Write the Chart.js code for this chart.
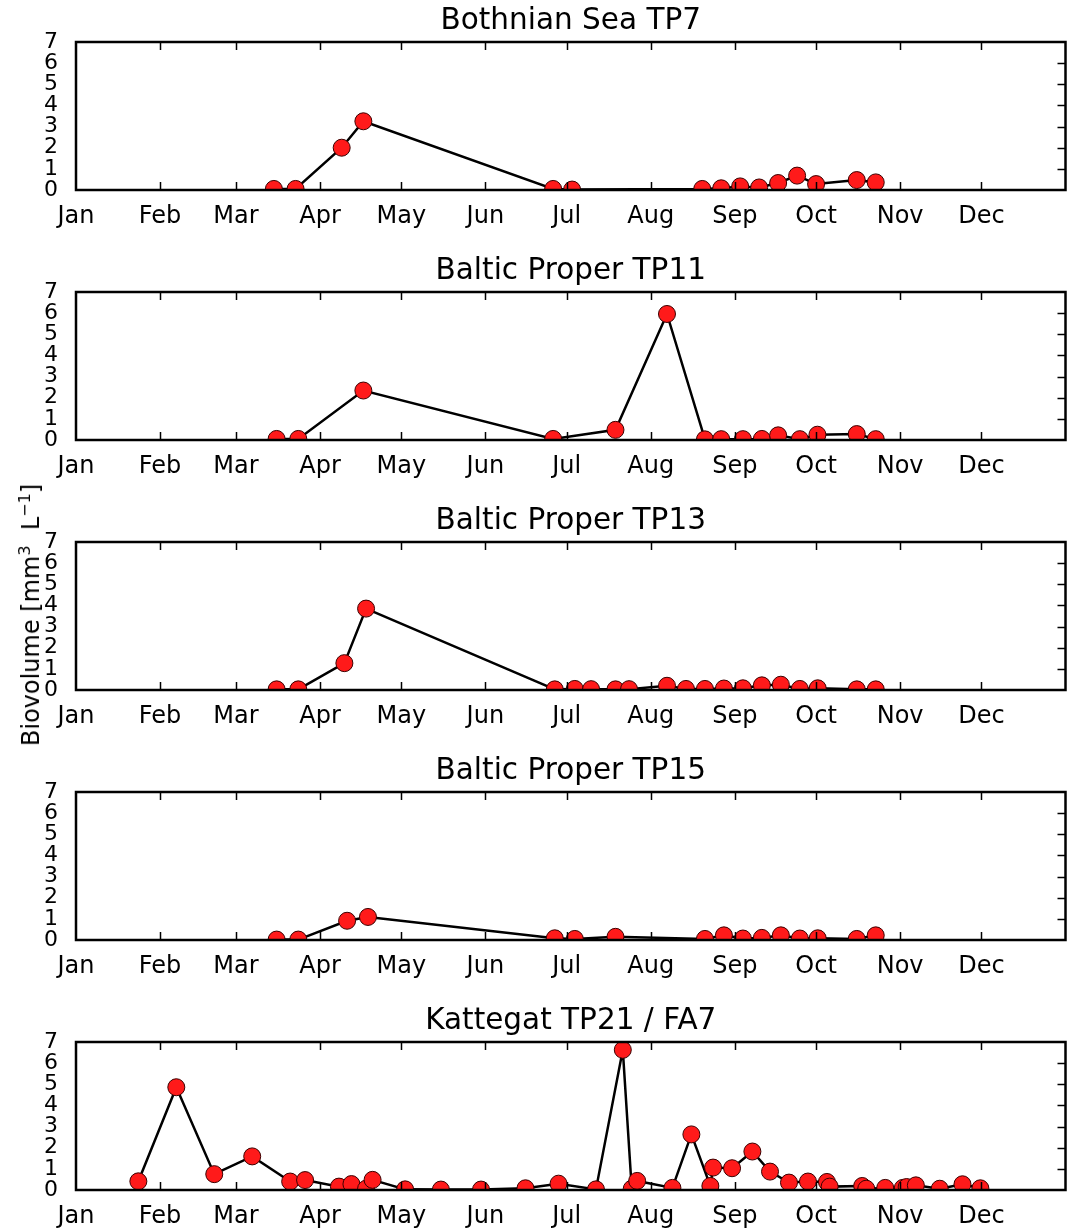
<!DOCTYPE html>
<html>
<head>
<meta charset="utf-8">
<script src="https://cdn.jsdelivr.net/npm/chart.js@4/dist/chart.umd.min.js"></script>
<style>
  html, body { margin: 0; padding: 0; background: #fff; width: 1075px; height: 1228px; overflow: hidden; position: relative; }
  .panel { position: absolute; left: 0; }
  #ylabel { position: absolute; left: 30px; top: 615px; transform: translate(-50%, -50%) rotate(-90deg);
            white-space: nowrap; font-family: "DejaVu Sans", sans-serif; font-size: 24px; color: #000; z-index: 5; }
  #ylabel sup { font-size: 16px; }
</style>
</head>
<body>
<canvas id="c0" class="panel" width="1075" height="250" style="top:0px"></canvas>
<canvas id="c1" class="panel" width="1075" height="250" style="top:250px"></canvas>
<canvas id="c2" class="panel" width="1075" height="250" style="top:500px"></canvas>
<canvas id="c3" class="panel" width="1075" height="250" style="top:750px"></canvas>
<canvas id="c4" class="panel" width="1075" height="250" style="top:1000px"></canvas>
<div id="ylabel">Biovolume [mm<sup>3</sup>&nbsp;&nbsp;L<sup>&minus;1</sup>]</div>
<script>
// ---- data (x = day of year, y = biovolume) ----
const monthStarts = [0, 31, 59, 90, 120, 151, 181, 212, 243, 273, 304, 334];
const monthLabels = ['Jan', 'Feb', 'Mar', 'Apr', 'May', 'Jun', 'Jul', 'Aug', 'Sep', 'Oct', 'Nov', 'Dec'];
const yTickValues = [0, 1, 2, 3, 4, 5, 6, 7];
const panelTitles = ['Bothnian Sea TP7', 'Baltic Proper TP11', 'Baltic Proper TP13', 'Baltic Proper TP15', 'Kattegat TP21 / FA7'];

const daysTP7 = [73, 81, 98, 106, 176, 183, 231, 238, 245, 252, 259, 266, 273, 288, 295];
const valuesTP7 = [0.05, 0.05, 2.0, 3.25, 0.05, 0.02, 0.05, 0.08, 0.17, 0.12, 0.33, 0.68, 0.28, 0.47, 0.36];

const daysTP11 = [74, 82, 106, 176, 199, 218, 232, 238, 246, 253, 259, 267, 273.5, 288, 295];
const valuesTP11 = [0.05, 0.05, 2.34, 0.05, 0.48, 5.96, 0.03, 0.04, 0.04, 0.05, 0.22, 0.04, 0.25, 0.28, 0.04];

const daysTP13 = [74, 82, 99, 107, 176.6, 184, 190, 199, 204, 218, 225, 232, 239, 246, 253, 260, 267, 273.6, 288, 295];
const valuesTP13 = [0.03, 0.03, 1.27, 3.85, 0.03, 0.05, 0.04, 0.03, 0.04, 0.2, 0.05, 0.05, 0.07, 0.08, 0.22, 0.25, 0.05, 0.08, 0.03, 0.03];

const daysTP15 = [74, 82, 100, 107.7, 176.6, 184, 199, 232, 239, 246, 253, 260, 267, 273.6, 288, 295];
const valuesTP15 = [0.02, 0.02, 0.91, 1.09, 0.08, 0.05, 0.15, 0.05, 0.22, 0.07, 0.1, 0.22, 0.07, 0.08, 0.05, 0.22];

const daysTP21 = [23, 37, 51, 65, 79, 84.5, 97, 101.6, 107, 109.4, 121.4, 134.6, 149.4, 165.8, 178, 191.8, 201.7, 205, 207, 220, 227, 234, 235, 242, 249.5, 256, 263, 270, 277, 278, 290, 291.5, 298.5, 305, 306.4, 309.8, 318.6, 327, 333.6];
const valuesTP21 = [0.41, 4.86, 0.75, 1.59, 0.4, 0.47, 0.16, 0.28, 0.06, 0.48, 0.03, 0.02, 0.02, 0.08, 0.3, 0.03, 6.63, 0.06, 0.43, 0.1, 2.63, 0.19, 1.06, 1.03, 1.82, 0.87, 0.35, 0.4, 0.38, 0.16, 0.19, 0.06, 0.1, 0.1, 0.14, 0.22, 0.06, 0.27, 0.08];

const seriesDays = [daysTP7, daysTP11, daysTP13, daysTP15, daysTP21];
const seriesValues = [valuesTP7, valuesTP11, valuesTP13, valuesTP15, valuesTP21];

const FONT = '"DejaVu Sans", sans-serif';

const framePlugin = {
  id: 'frame',
  afterDatasetsDraw(chart) {
    const { ctx, chartArea: a, scales } = chart;
    ctx.save();
    ctx.strokeStyle = '#000';
    ctx.lineWidth = 1.5;
    const tl = 8;
    ctx.beginPath();
    monthStarts.forEach(v => {
      if (v <= 0) return;
      const px = Math.round(scales.x.getPixelForValue(v)) + 0.5;
      ctx.moveTo(px, a.top); ctx.lineTo(px, a.top + tl);
      ctx.moveTo(px, a.bottom); ctx.lineTo(px, a.bottom - tl);
    });
    yTickValues.forEach(v => {
      if (v <= 0 || v >= 7) return;
      const py = Math.round(scales.y.getPixelForValue(v)) + 0.5;
      ctx.moveTo(a.right, py); ctx.lineTo(a.right - tl, py);
    });
    ctx.stroke();
    ctx.lineWidth = 2.5;
    ctx.strokeRect(a.left, a.top, a.right - a.left, a.bottom - a.top);
    ctx.restore();
  }
};

for (let k = 0; k < 5; k++) {
  const canvas = document.getElementById('c' + k);
  new Chart(canvas, {
    type: 'line',
    data: {
      datasets: [{
        data: seriesDays[k].map((d, i) => ({ x: d, y: seriesValues[k][i] })),
        borderColor: '#000',
        borderWidth: 2.5,
        pointRadius: 8.5,
        pointBackgroundColor: '#ff1a1a',
        pointBorderColor: '#3a0000',
        pointBorderWidth: 1,
        tension: 0,
        clip: 0
      }]
    },
    options: {
      responsive: false,
      animation: false,
      devicePixelRatio: 1,
      layout: { padding: { left: 0, right: 3, top: 0, bottom: 0 } },
      plugins: {
        legend: { display: false },
        tooltip: { enabled: false },
        title: {
          display: true,
          fullSize: false,
          text: panelTitles[k],
          color: '#000',
          font: { family: FONT, size: 29.5, weight: 'normal' },
          padding: { top: 4, bottom: 2.6 }
        }
      },
      scales: {
        x: {
          type: 'linear',
          min: 0,
          max: 365,
          afterBuildTicks: s => { s.ticks = monthStarts.map(v => ({ value: v })); },
          afterFit: s => { s.height = 60; },
          ticks: {
            callback: v => monthLabels[monthStarts.indexOf(v)],
            color: '#000',
            font: { family: FONT, size: 24 },
            padding: 4,
            maxRotation: 0,
            autoSkip: false
          },
          grid: { display: false },
          border: { display: false }
        },
        y: {
          min: 0,
          max: 7,
          afterBuildTicks: s => { s.ticks = yTickValues.map(v => ({ value: v })); },
          afterFit: s => { s.width = 76; },
          ticks: {
            color: '#000',
            font: { family: FONT, size: 22 },
            padding: 10,
            autoSkip: false
          },
          grid: { display: false },
          border: { display: false }
        }
      }
    },
    plugins: [framePlugin]
  });
}
</script>
</body>
</html>
